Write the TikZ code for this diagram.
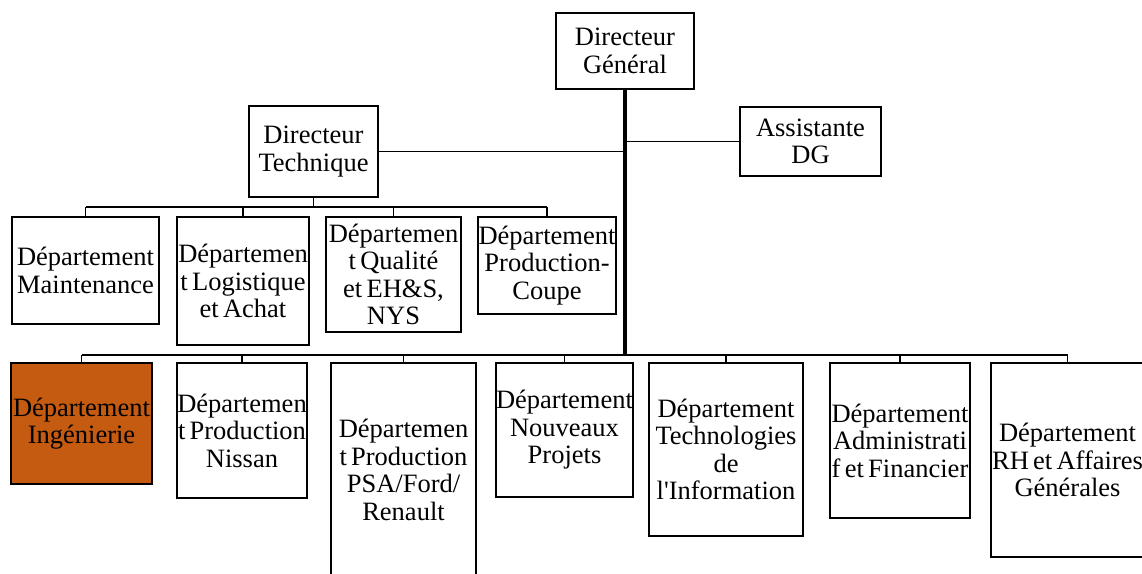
\documentclass[tikz,border=0pt]{standalone}
\usepackage{fontspec}
\setmainfont{Liberation Serif}[Ligatures=TeXOff, WordSpace=0.65]
\definecolor{ingorange}{HTML}{C55A11}
\begin{document}
\begin{tikzpicture}[x=1pt,y=-1pt,
  font=\fontsize{26.5pt}{27.5pt}\selectfont,
  unit/.style={draw=black, line width=1.5pt, fill=white, inner sep=0pt,
    align=center, minimum width=#1},
  link/.style={draw=black, line width=1.4pt},
  trunk/.style={draw=black, line width=3.4pt}]
\useasboundingbox (0,0) rectangle (1142,573);

% direction
\node[unit=138, minimum height=76] (dg) at (625,51) {Directeur\\Général};
\node[unit=141, minimum height=69] (as) at (810.5,141.5) {Assistante\\DG};
\node[unit=129, minimum height=91] (dt) at (313.5,151.5) {Directeur\\Technique};

% departments under the technical director
\node[unit=147, minimum height=107] (maint) at (85.5,270.5) {Département\\Maintenance};
\node[unit=132, minimum height=128] (logi) at (243,281) {Départemen\\t Logistique\\et Achat};
\node[unit=135, minimum height=115] (qual) at (393.5,274.5) {Départemen\\t Qualité\\et EH\&S,\\NYS};
\node[unit=138, minimum height=97] (coupe) at (547,265.5) {Département\\Production-\\Coupe};

% departments under the general director
\node[unit=141, minimum height=121, fill=ingorange] (ing) at (81.5,423.5) {Département\\Ingénierie};
\node[unit=130, minimum height=135] (nis) at (242,430.5) {Départemen\\t Production\\Nissan};
\node[unit=145, minimum height=214] (psa) at (403.5,470) {Départemen\\t Production\\PSA/Ford/\\Renault};
\node[unit=135, minimum height=134] (nouv) at (564.5,430) {Département\\Nouveaux\\Projets};
\node[unit=154, minimum height=173] (tech) at (726,449.5) {Département\\Technologies\\de\\l'Information};
\node[unit=140, minimum height=155] (adm) at (900,440.5) {Département\\Administrati\\f et Financier};
\node[unit=153, minimum height=194] (rh) at (1067.5,460) {Département\\RH et Affaires\\Générales};

% bus lines
\coordinate (busA) at (0,207);
\coordinate (busB) at (0,355);

% main trunk and staff links
\draw[trunk] (dg.south) -- (dg.south |- busB);
\draw[link] (dg.south |- as.west) -- (as.west);
\draw[link] (dt.east) -- (dt.east -| dg.south);

% technical director branch
\draw[link] (dt.south) -- (dt.south |- busA);
\draw[link] (maint.north |- busA) -- (coupe.north |- busA);
\foreach \n in {maint,logi,qual,coupe}
  \draw[link] (\n.north) -- (\n.north |- busA);

% general director branch
\draw[link] (ing.north |- busB) -- (rh.north |- busB);
\foreach \n in {ing,nis,psa,nouv,tech,adm,rh}
  \draw[link] (\n.north) -- (\n.north |- busB);
\end{tikzpicture}
\end{document}
